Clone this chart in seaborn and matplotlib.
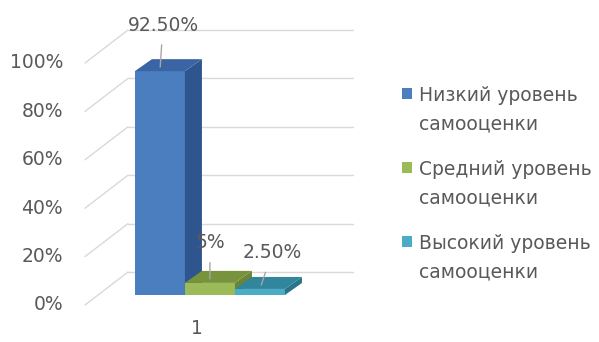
import matplotlib
matplotlib.use("Agg")
import matplotlib.pyplot as plt
import matplotlib.transforms as mtransforms
from matplotlib.patches import Polygon, Rectangle
from matplotlib.lines import Line2D
from matplotlib.legend_handler import HandlerPatch
import seaborn as sns
import pandas as pd

# ---- data ----
groups = ["1", "1", "1"]
levels = ["Низкий уровень самооценки", "Средний уровень самооценки", "Высокий уровень самооценки"]
values = [0.925, 0.05, 0.025]
value_labels = ["92.50%", "5%", "2.50%"]
y_ticks = [0.0, 0.2, 0.4, 0.6, 0.8, 1.0]
y_tick_labels = ["0%", "20%", "40%", "60%", "80%", "100%"]
legend_labels = ["Низкий уровень\nсамооценки", "Средний уровень\nсамооценки", "Высокий уровень\nсамооценки"]

# ---- style ----
front_colors = ["#4a7ebf", "#9bbb59", "#4bacc6"]
top_colors = ["#3a64a4", "#77933c", "#31859c"]
side_colors = ["#2f558f", "#6a8535", "#2a7389"]
text_color = "#595959"
grid_color = "#d9d9d9"
FS = 13.5

sns.set_theme(style="white")
plt.rcParams["font.family"] = ["DejaVu Sans"]

W, H, DPI = 599, 342, 100
fig = plt.figure(figsize=(W / DPI, H / DPI), dpi=DPI)
# bar front plane: x 98..323 px, y=0 at 295 px, y=1 at 53 px (from top)
ax = fig.add_axes([98 / W, (H - 295) / H, 225 / W, 242 / H])
ax.patch.set_visible(False)

df = pd.DataFrame({"group": groups, "level": levels, "value": values})
sns.barplot(data=df, x="group", y="value", hue="level", hue_order=levels,
            palette=front_colors, saturation=1, width=0.8, dodge=True,
            ax=ax, linewidth=0, zorder=3, legend=True)

ax.set_xlim(-0.597, 0.603)
ax.set_ylim(0, 1)
ax.set_autoscale_on(False)
for s in ax.spines.values():
    s.set_visible(False)
ax.set_xlabel("")
ax.set_ylabel("")
ax.set_yticks([])
ax.tick_params(axis="x", length=0, pad=17.5, labelsize=FS, labelcolor=text_color)

IDT = mtransforms.IdentityTransform()
to_disp = ax.transData
BACK = (30, 23)
FRONT = (-13, -10)
DEPTH = (17, 12)

x0, x1 = ax.get_xlim()
# back wall gridlines and side-wall diagonals, tick labels at the front edge
for v, lab in zip(y_ticks, y_tick_labels):
    a = to_disp.transform((x0, v))
    b = to_disp.transform((x1, v))
    ax.add_line(Line2D([a[0] + BACK[0], b[0] + BACK[0]], [a[1] + BACK[1], b[1] + BACK[1]],
                       transform=IDT, color=grid_color, lw=1.0, zorder=1, clip_on=False))
    ax.add_line(Line2D([a[0] + FRONT[0], a[0] + BACK[0]], [a[1] + FRONT[1], a[1] + BACK[1]],
                       transform=IDT, color=grid_color, lw=1.0, zorder=1, clip_on=False))
    fig.text((a[0] + FRONT[0] - 22) / W, (a[1] + FRONT[1]) / H, lab, ha="right", va="center",
             fontsize=FS, color=text_color)

# 3D faces of bars, derived from the seaborn bar rectangles
for i, cont in enumerate(ax.containers):
    for rect in cont:
        bx, by = rect.get_x(), rect.get_y()
        bw, bh = rect.get_width(), rect.get_height()
        p10 = to_disp.transform((bx + bw, by))
        p01 = to_disp.transform((bx, by + bh))
        p11 = to_disp.transform((bx + bw, by + bh))
        dx, dy = DEPTH
        side = [p10, (p10[0] + dx, p10[1] + dy), (p11[0] + dx, p11[1] + dy), p11]
        top = [p01, (p01[0] + dx, p01[1] + dy), (p11[0] + dx, p11[1] + dy), p11]
        z = 3 + i
        ax.add_patch(Polygon(side, closed=True, transform=IDT,
                             facecolor=side_colors[i], edgecolor="none", zorder=z + 0.1, clip_on=False))
        ax.add_patch(Polygon(top, closed=True, transform=IDT,
                             facecolor=top_colors[i], edgecolor="none", zorder=z + 0.2, clip_on=False))
        rect.set_zorder(z)

# value labels with leader lines
label_offsets = [(3, 46), (0, 40), (12, 36)]
for i, cont in enumerate(ax.containers):
    rect = cont[0]
    cx = rect.get_x() + rect.get_width() / 2
    top_v = rect.get_y() + rect.get_height()
    ox, oy = label_offsets[i]
    ax.annotate(value_labels[i], xy=(cx, top_v), xycoords="data",
                xytext=(ox * 72 / DPI, oy * 72 / DPI), textcoords="offset points",
                ha="center", va="center", fontsize=FS, color=text_color,
                arrowprops=dict(arrowstyle="-", color="#a6a6a6", lw=1.0,
                                shrinkA=5, shrinkB=-3),
                zorder=10, annotation_clip=False)

# shift category label slightly left, as in the 3D projection
for lbl in ax.get_xticklabels():
    lbl.set_transform(lbl.get_transform() + mtransforms.Affine2D().translate(-13, 0))

# legend with handles aligned to the first text line
def square_top(legend, orig_handle, xdescent, ydescent, width, height, fontsize):
    return Rectangle((-xdescent, -ydescent + 12.5), width, height)

handles, _ = ax.get_legend_handles_labels()
leg = ax.legend(handles, legend_labels, loc="upper left", bbox_to_anchor=(402 / W, 1 - 86 / H),
                bbox_transform=fig.transFigure, frameon=False, fontsize=FS,
                handlelength=0.55, handleheight=0.55, handletextpad=0.35,
                labelspacing=1.4, borderpad=0, borderaxespad=0, labelcolor=text_color,
                handler_map={Rectangle: HandlerPatch(patch_func=square_top)})
for t in leg.get_texts():
    t.set_linespacing(1.65)

fig.savefig("out.png", dpi=DPI)
